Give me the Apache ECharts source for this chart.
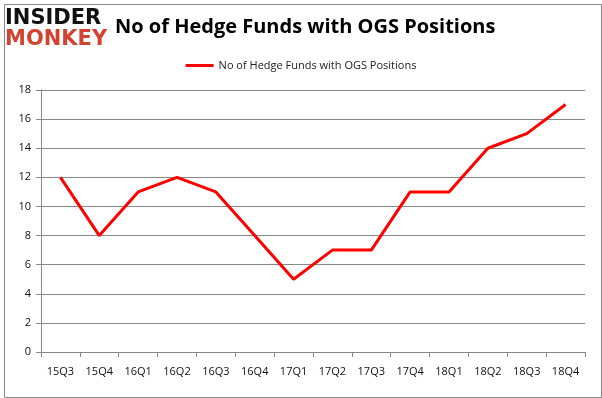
<!DOCTYPE html>
<html>
<head>
<meta charset="utf-8">
<script src="https://cdn.jsdelivr.net/npm/echarts@6/dist/echarts.min.js"></script>
<style>
  html, body { margin: 0; padding: 0; background: #fff; }
  #chart { width: 602px; height: 398px; }
</style>
</head>
<body>
<div id="chart"></div>
<script>
var quarters = ['15Q3', '15Q4', '16Q1', '16Q2', '16Q3', '16Q4', '17Q1', '17Q2', '17Q3', '17Q4', '18Q1', '18Q2', '18Q3', '18Q4'];
var fundCounts = [12, 8, 11, 12, 11, 8, 5, 7, 7, 11, 11, 14, 15, 17];
var seriesName = 'No of Hedge Funds with OGS Positions';

var myChart = echarts.init(document.getElementById('chart'));
var option = {
    animation: false,
    backgroundColor: '#fff',
    title: {
        text: 'No of Hedge Funds with OGS Positions',
        left: 110,
        top: 12,
        textStyle: { fontFamily: 'Open Sans', fontWeight: 'bold', fontSize: 20, color: '#000' }
    },
    graphic: [
        {
            type: 'rect', left: 2, top: 2,
            shape: { width: 597, height: 393 },
            style: { fill: 'none', stroke: '#888', lineWidth: 1 }
        },
        {
            type: 'text', left: 5, top: 8,
            style: { text: 'INSIDER', fill: '#111', font: 'bold 21px "DejaVu Sans"' }
        },
        {
            type: 'text', left: 5, top: 29,
            style: { text: 'MONKEY', fill: '#d2432f', font: 'bold 21px "DejaVu Sans"' }
        }
    ],
    legend: {
        top: 55,
        left: 'center',
        itemWidth: 28,
        itemHeight: 3,
        icon: 'rect',
        textStyle: { fontFamily: 'Open Sans', fontSize: 11, color: '#222' },
        data: [seriesName]
    },
    grid: { left: 41, right: 17, top: 90, bottom: 46 },
    xAxis: {
        type: 'category',
        data: quarters,
        boundaryGap: true,
        axisLine: { lineStyle: { color: '#888' } },
        axisTick: { show: true, length: 5, lineStyle: { color: '#888' } },
        axisLabel: { color: '#111', fontFamily: 'Open Sans', fontSize: 11, margin: 14 }
    },
    yAxis: {
        type: 'value',
        min: 0,
        max: 18,
        interval: 2,
        axisLine: { show: true, lineStyle: { color: '#888' } },
        axisTick: { show: true, length: 5, lineStyle: { color: '#888' } },
        splitLine: { lineStyle: { color: '#888' } },
        axisLabel: { color: '#111', fontFamily: 'Open Sans', fontSize: 11, margin: 10 }
    },
    series: [{
        name: seriesName,
        type: 'line',
        data: fundCounts,
        symbol: 'none',
        lineStyle: { color: '#ff0000', width: 3 },
        itemStyle: { color: '#ff0000' }
    }]
};
myChart.setOption(option);
</script>
</body>
</html>
